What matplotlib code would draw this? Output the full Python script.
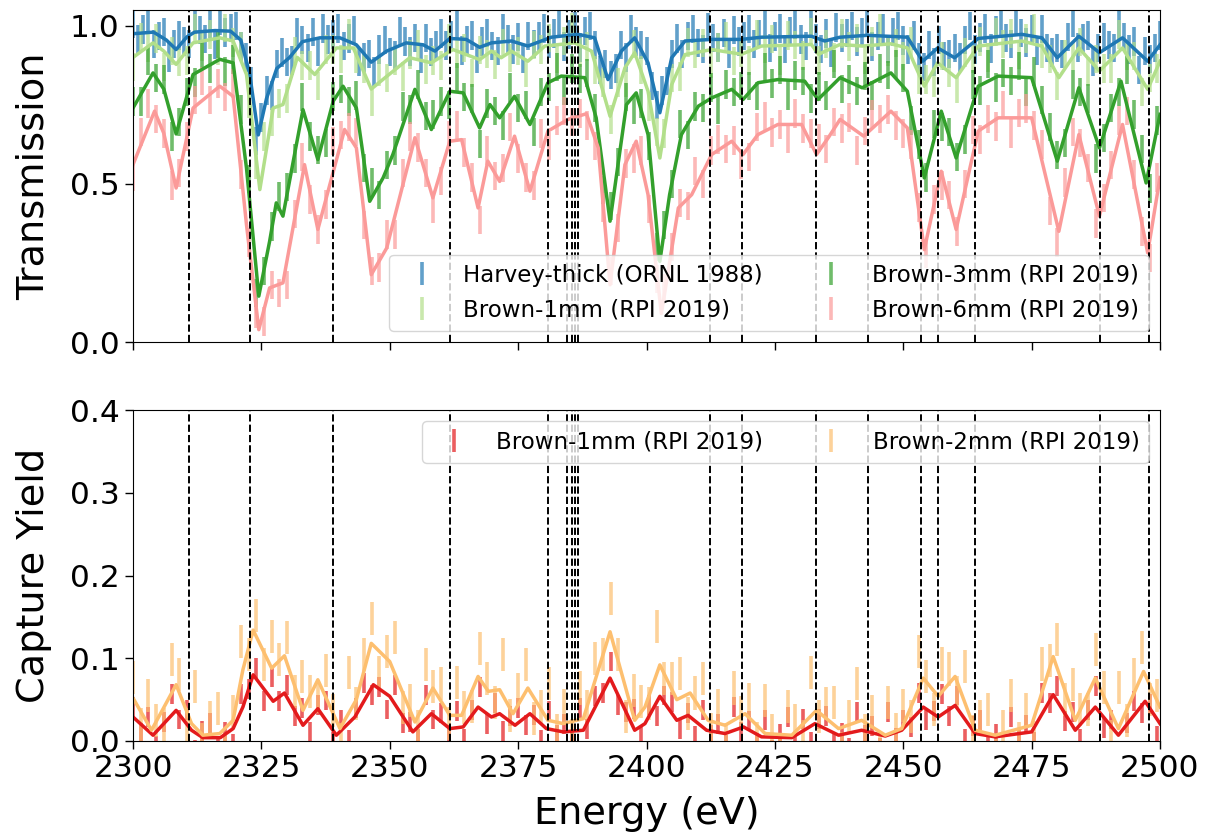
import numpy as np
import matplotlib
matplotlib.use("Agg")
import matplotlib.pyplot as plt

# ---------------- resonance energies (dashed lines) ----------------
resonance_energies = [2310.9, 2322.8, 2338.9, 2361.8, 2380.8, 2384.5, 2385.4, 2386.0,
                      2386.6, 2412.4, 2418.6, 2433.1, 2443.2, 2453.5, 2456.8, 2464.0,
                      2488.4, 2497.8]

# ---------------- transmission data ----------------
harvey_energy = np.arange(2300.0, 2500.5, 1.0)
harvey_trans = [1.005, .957, .989, 1.025, .943, .968, .98, .90, .942, .97,
                .95, .942, 1.02, .987, .959, 1.005, .94, 1.015, .979, .993,
                1.0, .935, .90, .825, .635, .71, .795, .78, .88, .915,
                .885, .89, .98, .955, .93, .98, .917, .992, .957, .972,
                .992, .936, .96, .987, .885, .90, .911, .855, .925, .955,
                .918, .906, .983, .951, .919, .962, .895, .962, .917, .94,
                .975, .938, .97, 1.003, .922, .955, .97, .895, .95, .977,
                .937, .92, .991, .957, .925, .965, .895, .968, .943, .966,
                .992, .944, .976, 1.013, .935, .972, .998, .932, .983, .999,
                .94, .86, .88, .845, .865, .94, .90, .99, .95, .94,
                .92, .81, .75, .795, .825, .91, .96, .91, .968, .99,
                .946, .927, .997, .962, .932, .977, .912, .986, .95, .968,
                .99, .942, .974, 1.01, .93, .966, .991, .926, .982, 1.002,
                .957, .937, 1.006, .96, .927, .976, .915, .994, .961, .978,
                .999, .95, .98, 1.015, .934, .968, .992, .926, .98, 1.0,
                .954, .925, .97, .90, .87, .94, .885, .955, .905, .91,
                .93, .90, .955, 1.0, .925, .963, .991, .928, .985, 1.006,
                .962, .943, 1.013, .978, .947, .99, .921, .99, .93, .915,
                .93, .91, .965, 1.01, .932, .96, .97, .885, .93, .965,
                .94, .93, 1.002, .965, .925, .95, .86, .92, .895, .93,
                .97]
harvey_err = 0.045

brown_energy = np.arange(2300.0, 2500.0, 1.5)
brown1_trans = [.87, .965, .932, .96, .87, .92, .885, .89, .993, .934,
                .973, .922, .993, .947, .935, .755, .56, .65, .695, .755,
                .77, .92, .875, .875, .81, .925, .925, .895, .975, .895,
                .865, .76, .855, .835, .89, .84, .909, .943, .862, .89,
                .875, .96, .91, .93, .85, .923, .91, .877, .945, .898,
                .92, .85, .94, .925, .962, .895, .952, .995, .915, .935,
                .86, .82, .704, .82, .82, .942, .86, .745, .665, .66,
                .835, .84, .947, .91, .945, .88, .932, .968, .889, .915,
                .89, .972, .926, .958, .889, .97, .94, .906, .98, .89,
                .943, .90, .976, .934, .962, .892, .95, .992, .918, .945,
                .905, .95, .83, .83, .82, .905, .85, .801, .915, .895,
                .951, .90, .98, .943, .975, .907, .96, .993, .911, .895,
                .81, .91, .905, .948, .855, .895, .865, .865, .973, .905,
                .905, .79, .835, .865]
brown1_err = 0.045
brown3_trans = [.76, .76, .89, .835, .83, .65, .695, .79, .82, .91,
                .865, .943, .855, .893, .735, .515, .155, .225, .365, .46,
                .49, .58, .775, .65, .607, .63, .777, .80, .76, .78,
                .55, .505, .465, .56, .605, .745, .735, .815, .715, .72,
                .76, .75, .837, .775, .77, .627, .755, .73, .685, .805,
                .74, .75, .665, .79, .807, .87, .795, .865, .833, .85,
                .74, .48, .43, .57, .775, .735, .755, .62, .30, .37,
                .50, .69, .655, .745, .74, .805, .735, .815, .79, .81,
                .81, .778, .87, .818, .86, .78, .843, .826, .77, .808,
                .78, .88, .80, .83, .793, .841, .78, .865, .845, .88,
                .835, .70, .625, .52, .69, .68, .665, .585, .64, .815,
                .795, .88, .805, .851, .825, .873, .792, .855, .765, .68,
                .592, .63, .815, .79, .77, .58, .645, .74, .79, .86,
                .72, .61, .485, .70]
brown3_err = 0.045
brown6_trans = [.521, .665, .755, .705, .66, .495, .535, .65, .765, .825,
                .765, .818, .775, .817, .53, .315, .09, .065, .18, .155,
                .18, .405, .585, .45, .356, .435, .635, .655, .68, .664,
                .37, .225, .235, .34, .34, .535, .65, .615, .535, .421,
                .51, .655, .685, .60, .52, .385, .605, .525, .55, .68,
                .58, .52, .495, .66, .62, .70, .73, .695, .723, .685,
                .62, .425, .225, .36, .565, .58, .605, .42, .20, .17,
                .30, .44, .43, .54, .50, .605, .64, .61, .637, .56,
                .585, .68, .715, .663, .688, .643, .723, .675, .66, .645,
                .61, .695, .675, .71, .605, .667, .72, .705, .735, .685,
                .66, .625, .425, .28, .45, .495, .465, .35, .50, .67,
                .64, .705, .682, .749, .659, .724, .739, .685, .625, .415,
                .315, .505, .665, .63, .55, .375, .455, .56, .70, .73,
                .53, .35, .265, .52]
brown6_err = 0.045

# smooth fitted curves (transmission)
harvey_fit_e = [2300, 2304, 2306.5, 2308.4, 2310.5, 2312, 2316, 2319, 2321, 2322.7,
                2324.4, 2326, 2328, 2330.5, 2333, 2336.4, 2340.3, 2343.5, 2346.4, 2349.4,
                2353.2, 2356.5, 2358.8, 2361.7, 2364.9, 2367.5, 2369.8, 2373.7, 2376.9, 2381.5,
                2386.7, 2389.9, 2392.5, 2395.1, 2397.7, 2400.3, 2402.6, 2404.9, 2407.5, 2412.7,
                2418.5, 2422.4, 2432.1, 2434.7, 2437.7, 2443, 2450.8, 2453.8, 2456.7, 2460,
                2464.6, 2473.1, 2477, 2480, 2484.2, 2488.2, 2492.7, 2497.6, 2500]
harvey_fit = [.975, .98, .955, .925, .965, .98, .985, .983, .955, .85,
              .655, .77, .865, .90, .95, .962, .962, .94, .885, .92,
              .946, .94, .92, .96, .957, .932, .946, .952, .936, .964,
              .973, .962, .83, .92, .962, .883, .725, .899, .952, .957,
              .957, .964, .967, .952, .964, .97, .964, .888, .93, .899,
              .96, .973, .962, .899, .967, .915, .962, .888, .94]

brown1_fit_e = [2300, 2303.9, 2306, 2308.4, 2311.7, 2316.9, 2319.5, 2322.1, 2324.7, 2327.3,
                2329.2, 2332, 2335.4, 2339.6, 2342.9, 2346.4, 2349.4, 2353.9, 2358.1, 2362.3,
                2367.5, 2369.8, 2371.7, 2373.7, 2376.9, 2380.2, 2386, 2389.3, 2392.9, 2395.8,
                2397.7, 2400.3, 2402.6, 2404.9, 2407.5, 2412.7, 2418.5, 2422.4, 2432.1, 2433.5,
                2437.7, 2442, 2447.6, 2450.8, 2454.1, 2456.7, 2460.3, 2464.6, 2473.1, 2477,
                2480.3, 2484.2, 2488.2, 2492.7, 2497.6, 2500]
brown1_fit = [.90, .946, .92, .878, .946, .962, .952, .846, .482, .74,
              .751, .90, .846, .93, .93, .80, .84, .899, .883, .925,
              .893, .92, .899, .92, .888, .936, .946, .92, .714, .867,
              .915, .793, .582, .814, .909, .925, .91, .936, .941, .91,
              .941, .936, .943, .93, .809, .883, .836, .936, .952, .936,
              .836, .93, .857, .93, .799, .888]

brown3_fit_e = [2300, 2303.9, 2306, 2308.4, 2311.7, 2316.9, 2319.5, 2322.1, 2324.5, 2326.6,
                2327.9, 2329.2, 2333.1, 2336, 2339, 2340.9, 2343.5, 2346.1, 2348.7, 2350.6,
                2354.9, 2358.1, 2361.7, 2364.3, 2367.5, 2369.5, 2371.4, 2374.3, 2377.3, 2380.8,
                2383.4, 2388, 2390.2, 2392.9, 2396.1, 2398, 2400.3, 2402.6, 2404.5, 2406.8,
                2410.1, 2412.7, 2416.6, 2418.8, 2421.7, 2425.6, 2430.8, 2433.4, 2437.7, 2442,
                2447.6, 2450.8, 2454.1, 2457.4, 2460.3, 2464.6, 2468.5, 2475, 2480, 2484.2,
                2488.2, 2492.4, 2497.3, 2500]
brown3_fit = [.74, .851, .80, .658, .846, .894, .883, .55, .145, .318,
              .44, .398, .735, .577, .762, .809, .74, .445, .519, .593,
              .799, .672, .793, .788, .677, .751, .709, .777, .688, .82,
              .841, .836, .709, .382, .751, .788, .656, .255, .466, .656,
              .746, .772, .799, .767, .82, .83, .825, .767, .836, .804,
              .851, .793, .519, .73, .582, .809, .841, .836, .572, .804,
              .614, .825, .503, .72]

brown6_fit_e = [2300, 2304.2, 2306, 2308.4, 2311.7, 2316.9, 2319.5, 2322.1, 2324.5, 2326.6,
                2329.2, 2333.4, 2336, 2341.2, 2343.5, 2346.4, 2349.4, 2354.9, 2358.4, 2361.7,
                2364, 2367.2, 2369.1, 2371.4, 2374.3, 2377.3, 2380.8, 2384.7, 2388.3, 2390.6,
                2392.9, 2395.8, 2398, 2400.3, 2402.9, 2406.2, 2408.8, 2412.7, 2416.6, 2418.8,
                2421.7, 2425.6, 2430.2, 2433.1, 2435.4, 2437.7, 2442.3, 2447.6, 2450.8, 2454.1,
                2457.4, 2460.3, 2464.6, 2468.5, 2475, 2480.3, 2484.2, 2488.2, 2492.7, 2497.6,
                2500]
brown6_fit = [.561, .73, .66, .487, .74, .809, .777, .371, .039, .171,
              .187, .561, .356, .672, .614, .213, .297, .646, .456, .635,
              .64, .424, .572, .508, .651, .477, .667, .704, .722, .614,
              .181, .561, .635, .466, .09, .424, .466, .593, .635, .593,
              .656, .688, .688, .593, .646, .704, .651, .73, .677, .292,
              .54, .356, .667, .709, .709, .35, .656, .398, .688, .282,
              .52]

# ---------------- capture yield data ----------------
capture_energy = np.arange(2300.0, 2500.0, 1.5)
cap1_yield = [.041, .010, .029, -.006, .023, .057, .026, .037, -.011, .012,
              .022, -.008, .011, -.003, .057, .063, .088, .048, .077, .048,
              .068, .03, .04, .011, .044, .049, -.001, .026, .001, .04,
              .07, .056, .065, .038, .068, .022, .023, .002, .056, .026,
              .034, .007, .036, .003, .037, .065, .021, .046, .012, .03,
              .04, .019, .031, .001, .036, .007, .021, -.002, .04, .014,
              .054, .058, .096, .043, .035, .039, .006, .043, .03, .055,
              .047, .015, .034, .006, .037, .007, .021, -.005, .041, .011,
              .024, -.002, .025, -.011, .009, .029, -.004, .027, -.001, .027,
              .03, -.004, .01, -.008, .035, .007, .018, -.008, .035, .004,
              .026, .017, .058, .025, .036, .057, .03, .055, .002, .018,
              .025, -.006, .008, -.012, .029, .004, .02, -.001, .058, .046,
              .066, .024, .035, .003, .037, .066, .016, .026, -.013, .022,
              .048, .034, .045, .006]
cap1_err = 0.012
cap2_yield = [.077, .02, .055, .025, .02, .098, .08, .02, .066, .002,
              .028, .039, -.01, .035, .12, .105, .152, .092, .126, .099,
              .125, .06, .078, .06, .054, .085, .037, .002, .083, .045,
              .105, .148, .083, .108, .125, .04, .049, .017, .092, .066,
              .07, .021, .071, .04, .042, .112, .076, .046, .105, .031,
              .062, .092, .027, .042, .07, .013, .043, .006, .064, .042,
              .10, .105, .172, .105, .03, .061, .048, .045, .138, .075,
              .075, .082, .033, .058, .075, .014, .043, .002, .064, .034,
              .05, .003, .049, .013, -.013, .042, .025, .005, .083, .03,
              .045, .047, -.009, .03, .07, .013, .036, -.01, .046, .014,
              .043, .03, .108, .078, .038, .093, .087, .059, .09, .011,
              .03, .038, -.018, .018, .055, .003, .038, .004, .093, .097,
              .123, .05, .068, .038, .038, .111, .065, .005, .065, .025,
              .08, .113, .05, .055]
cap2_err = 0.02

cap1_fit_e = [2300, 2303.9, 2308.4, 2311.4, 2313.6, 2317, 2319.5, 2321.4, 2323.4, 2327.3,
              2329.5, 2333.1, 2336, 2339.6, 2343.2, 2346.8, 2350, 2354.5, 2358.1, 2361.7,
              2364.3, 2367.2, 2369.8, 2371.4, 2374.4, 2377.3, 2380.5, 2383.8, 2387.7, 2392.9,
              2397.7, 2399.7, 2402.6, 2405.9, 2408.1, 2411.7, 2415.3, 2418.9, 2422.4, 2428.3,
              2432.8, 2437.4, 2441.9, 2446.5, 2449.7, 2453.9, 2456.8, 2460.1, 2464, 2467.9,
              2475, 2479.2, 2483.5, 2487.4, 2491.9, 2497.1, 2500]
cap1_fit = [.029, .007, .037, .013, .004, .004, .015, .041, .080, .048,
            .058, .019, .039, .007, .029, .068, .054, .011, .033, .015,
            .017, .041, .029, .033, .019, .033, .015, .011, .013, .076,
            .013, .021, .054, .025, .031, .013, .009, .017, .005, .004,
            .021, .007, .013, .006, .013, .041, .029, .043, .009, .005,
            .011, .056, .013, .041, .007, .048, .021]

cap2_fit_e = [2300, 2303.6, 2308.4, 2311.4, 2313.6, 2316.9, 2319.5, 2321.4, 2323.4, 2327,
              2329.5, 2333.1, 2336, 2340.3, 2343.5, 2346.4, 2350, 2354.9, 2358.4, 2361.7,
              2364, 2367.2, 2369.2, 2371.4, 2374, 2376.9, 2380.8, 2383.8, 2387.7, 2392.9,
              2397.7, 2399.7, 2402.6, 2405.9, 2408.5, 2412, 2415.3, 2419.2, 2423.1, 2428.3,
              2433.1, 2437.4, 2441.9, 2446.5, 2449.7, 2453.9, 2456.8, 2460.1, 2464, 2467.9,
              2475, 2479.2, 2483.5, 2487.4, 2491.9, 2496.8, 2500]
cap2_fit = [.052, .013, .068, .021, .007, .009, .025, .086, .134, .088,
            .103, .037, .074, .015, .05, .118, .096, .023, .064, .031,
            .031, .078, .06, .062, .033, .064, .025, .021, .027, .132,
            .025, .041, .092, .05, .058, .025, .019, .033, .009, .007,
            .037, .015, .025, .007, .015, .076, .054, .078, .013, .007,
            .019, .102, .025, .076, .015, .084, .041]

trans_labels = ["Harvey-thick (ORNL 1988)", "Brown-1mm (RPI 2019)",
                "Brown-3mm (RPI 2019)", "Brown-6mm (RPI 2019)"]
capture_labels = ["Brown-1mm (RPI 2019)", "Brown-2mm (RPI 2019)"]

c_blue, c_lgreen, c_green, c_pink = "#1f78b4", "#b2df8a", "#33a02c", "#fb9a99"
c_red, c_orange = "#e31a1c", "#fdbf6f"

# ---------------- figure ----------------
W, H = 1209, 832
fig = plt.figure(figsize=(W / 100, H / 100), dpi=100)
ax1 = fig.add_axes([133 / W, (H - 342) / H, 1027 / W, 332 / H])
ax2 = fig.add_axes([133 / W, (H - 741) / H, 1027 / W, 331 / H], sharex=ax1)

ebkw = dict(fmt="none", elinewidth=2.6, alpha=0.7)
ax1.errorbar(harvey_energy, harvey_trans, yerr=harvey_err, ecolor=c_blue, label=trans_labels[0], **ebkw)
ax1.errorbar(brown_energy, brown1_trans, yerr=brown1_err, ecolor=c_lgreen, label=trans_labels[1], **ebkw)
ax1.errorbar(brown_energy, brown3_trans, yerr=brown3_err, ecolor=c_green, label=trans_labels[2], **ebkw)
ax1.errorbar(brown_energy, brown6_trans, yerr=brown6_err, ecolor=c_pink, label=trans_labels[3], **ebkw)
ax1.plot(harvey_fit_e, harvey_fit, color=c_blue, lw=2.5)
ax1.plot(brown1_fit_e, brown1_fit, color=c_lgreen, lw=2.5)
ax1.plot(brown3_fit_e, brown3_fit, color=c_green, lw=2.5)
ax1.plot(brown6_fit_e, brown6_fit, color=c_pink, lw=2.5)

ax2.errorbar(capture_energy, cap1_yield, yerr=cap1_err, ecolor=c_red, label=capture_labels[0], **ebkw)
ax2.errorbar(capture_energy, cap2_yield, yerr=cap2_err, ecolor=c_orange, label=capture_labels[1], **ebkw)
ax2.plot(cap1_fit_e, cap1_fit, color=c_red, lw=2.5)
ax2.plot(cap2_fit_e, cap2_fit, color=c_orange, lw=2.5)

for ax in (ax1, ax2):
    for e in resonance_energies:
        ax.axvline(e, color="k", ls="--", lw=1.4, zorder=3)
    ax.tick_params(labelsize=22.5, length=6, width=1)

ax1.set_xlim(2300, 2500)
ax1.set_ylim(0, 1.05)
ax1.set_yticks([0.0, 0.5, 1.0])
ax1.tick_params(labelbottom=False)
ax2.set_ylim(0, 0.4)
ax2.set_yticks([0.0, 0.1, 0.2, 0.3, 0.4])
ax2.set_xticks([2300, 2325, 2350, 2375, 2400, 2425, 2450, 2475, 2500])

ax1.set_ylabel("Transmission", fontsize=27.5, labelpad=13)
ax2.set_ylabel("Capture Yield", fontsize=27.5, labelpad=13)
ax2.set_xlabel("Energy (eV)", fontsize=27.5, labelpad=9)

ax1.legend(loc="lower right", ncol=2, fontsize=16.5)
ax2.legend(loc="upper right", ncol=2, fontsize=16.5)

fig.savefig("out.png", dpi=100)
